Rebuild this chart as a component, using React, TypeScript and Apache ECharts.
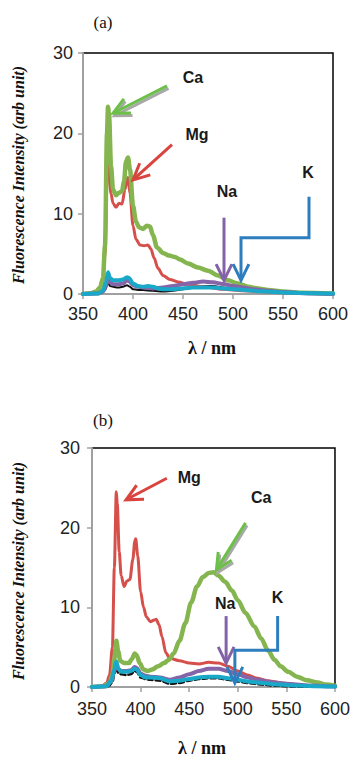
import React, { useEffect, useRef } from "react";
import * as echarts from "echarts";

// ---------- data ----------
const xTickLabels = ["350", "400", "450", "500", "550", "600"];
const yTickLabels = ["0", "10", "20", "30"];

// Panel (a)
const aCa = [[350,0],[358,0.1],[363,0.3],[367,0.8],[370,2],[372,6],[374,20],[375,23.3],[376,22.5],[378,16],[380,13],[383,12.3],[386,12.6],[389,12.8],[391,14],[393,16.5],[395,17],[397,15.5],[400,11],[403,9],[406,8.3],[410,8.1],[414,8.5],[417,8.4],[420,7.3],[424,5.8],[430,5.1],[436,4.8],[442,4.6],[447,4.3],[455,3.8],[465,3.3],[475,2.9],[485,2.3],[495,1.7],[505,1.3],[515,0.9],[525,0.7],[535,0.5],[550,0.3],[570,0.15],[600,0.05]];
const aMg = [[350,0],[360,0.1],[366,0.4],[370,1.5],[372,5],[374,14],[375,16],[376,15],[378,12.5],[380,11.3],[383,10.8],[386,11.3],[389,11.2],[392,13],[394,14.3],[395,14.5],[397,12.5],[400,8.5],[403,6.8],[407,6.1],[411,6],[415,6.1],[418,5.6],[421,4.5],[425,3.2],[430,2.3],[437,1.8],[445,1.5],[455,1.2],[470,0.9],[490,0.6],[510,0.4],[540,0.2],[570,0.1],[600,0]];
const aNa = [[350,0],[365,0.05],[370,0.3],[373,1],[375,1.9],[377,1.5],[380,1.2],[385,1.2],[390,1.3],[394,1.7],[396,1.6],[400,1.1],[405,0.9],[410,0.8],[420,0.7],[430,0.8],[440,1.0],[450,1.2],[460,1.4],[470,1.55],[480,1.45],[490,1.25],[500,1.0],[510,0.8],[520,0.6],[535,0.4],[550,0.25],[570,0.1],[600,0]];
const aK = [[350,0],[365,0.05],[370,0.4],[373,1.5],[375,2.7],[377,2.0],[380,1.7],[385,1.7],[390,1.8],[394,2.1],[396,2.0],[400,1.3],[405,1.0],[410,0.9],[415,1.0],[420,0.9],[425,0.7],[430,0.6],[440,0.6],[450,0.7],[460,0.8],[470,0.8],[480,0.8],[490,0.7],[500,0.6],[510,0.5],[525,0.35],[540,0.25],[560,0.15],[580,0.08],[600,0.05]];
const aBlank = [[350,0],[368,0.1],[372,0.5],[375,1.4],[377,1.0],[380,0.9],[385,0.8],[390,0.9],[394,1.1],[397,0.9],[400,0.6],[405,0.5],[410,0.5],[420,0.4],[430,0.3],[440,0.4],[450,0.6],[460,0.8],[470,1.0],[480,1.0],[490,0.8],[500,0.6],[510,0.5],[525,0.35],[550,0.15],[575,0.05],[600,0]];

// Panel (b)
const bMg = [[350,0],[360,0.1],[365,0.5],[368,1.5],[371,5],[373,15],[375,24.5],[376,23],[378,17],[380,14],[383,12.6],[386,13.3],[389,13.5],[392,16],[394,18.3],[395,18.6],[397,16.5],[400,12],[403,10],[406,8.8],[410,8.2],[414,8.4],[416,8.5],[419,7.8],[422,6.3],[426,4.3],[430,3.6],[440,3.3],[450,3.0],[460,2.9],[470,3.1],[480,3.0],[490,2.6],[500,2.0],[510,1.5],[520,1.1],[530,0.8],[545,0.5],[560,0.3],[580,0.15],[600,0.05]];
const bCa = [[350,0],[362,0.1],[368,0.5],[371,1.5],[373,3.5],[375,5.8],[377,4.5],[379,3.3],[383,3.0],[388,3.0],[391,3.5],[394,4.2],[396,4.0],[399,3.0],[403,2.2],[407,2.0],[412,2.2],[418,2.6],[424,3.0],[429,3.4],[434,4.2],[440,5.8],[446,8],[452,10.6],[458,12.6],[464,13.8],[470,14.3],[475,14.4],[480,14.0],[487,13.2],[494,12.1],[500,10.9],[508,9.3],[517,7.6],[524,6.1],[531,4.6],[538,3.4],[544,2.6],[552,1.9],[561,1.3],[571,0.85],[582,0.55],[591,0.3],[600,0.15]];
const bNa = [[350,0],[365,0.1],[370,0.8],[373,2],[375,3.0],[377,2.3],[380,2.0],[385,2.0],[390,2.1],[394,2.5],[396,2.4],[400,1.7],[405,1.4],[410,1.3],[420,1.2],[430,0.9],[440,1.2],[450,1.6],[460,2.0],[470,2.3],[480,2.3],[490,2.0],[500,1.6],[510,1.2],[520,0.9],[535,0.6],[550,0.4],[570,0.2],[600,0.05]];
const bK = [[350,0],[365,0.1],[370,0.8],[373,2.2],[375,3.2],[377,2.3],[380,1.9],[385,1.9],[390,2.0],[394,2.3],[396,2.2],[400,1.5],[405,1.2],[410,1.2],[420,1.1],[430,0.7],[440,0.8],[450,1.0],[460,1.2],[470,1.3],[480,1.3],[490,1.1],[500,0.9],[510,0.7],[525,0.5],[540,0.3],[560,0.2],[580,0.1],[600,0.05]];
const bBlank = [[350,0],[367,0.1],[371,0.6],[373,1.6],[375,2.6],[377,1.8],[380,1.6],[385,1.5],[390,1.6],[394,2.0],[396,1.9],[400,1.2],[405,1.0],[410,0.9],[420,0.8],[430,0.4],[440,0.5],[450,0.8],[460,1.0],[470,1.1],[480,1.1],[490,0.9],[500,0.7],[510,0.5],[525,0.3],[540,0.15],[560,0.05],[600,0]];

// annotation labels (data coords) and arrows (data coords, last point = tip)
const labelsA = [
  { text: "Ca", at: [460, 27.0] },
  { text: "Mg", at: [464, 19.8] },
  { text: "Na", at: [494, 12.7] },
  { text: "K", at: [575, 15.1] },
];
const arrowsA = [
  { color: "#6cc04a", shadow: true, pts: [[434, 25.9], [380, 22.5]] },
  { color: "#d9443f", shadow: false, pts: [[439, 18.6], [400, 14.2]] },
  { color: "#8462a8", shadow: false, pts: [[491, 9.5], [491, 1.7]] },
  { color: "#2e7dbd", shadow: false, pts: [[576, 12.1], [576, 7.0], [508, 7.0], [508, 1.7]] },
];
const labelsB = [
  { text: "Mg", at: [450, 26.3] },
  { text: "Ca", at: [524, 23.8] },
  { text: "Na", at: [487, 10.5] },
  { text: "K", at: [541, 11.2] },
];
const arrowsB = [
  { color: "#d9443f", shadow: false, pts: [[427, 26.2], [385, 23.5]] },
  { color: "#6cc04a", shadow: true, pts: [[508, 20.6], [478, 14.7]] },
  { color: "#8462a8", shadow: false, pts: [[488, 8.9], [488, 3.0]] },
  { color: "#2e7dbd", shadow: false, pts: [[541, 8.9], [541, 4.6], [497, 4.6], [497, 0.5]] },
];

// ---------- styles ----------
const SANS = 'Arial, "Liberation Sans", Helvetica, sans-serif';
const SERIF = '"Times New Roman", "Liberation Serif", serif';
const C_CA = "#84b54e";
const C_MG = "#d6504b";
const C_NA = "#8565a8";
const C_K = "#1aa8c8";
const C_BLANK = "#111111";

function line(data: number[][], idx: number, color: string, width: number, dashed = false) {
  return {
    type: "line",
    data,
    xAxisIndex: idx,
    yAxisIndex: idx,
    showSymbol: false,
    smooth: 0.3,
    smoothMonotone: "x",
    lineStyle: { color, width, type: dashed ? [5, 3] : "solid", cap: "round", join: "round" },
    itemStyle: { color },
    silent: true,
  };
}

function xAxis(idx: number, margin: number) {
  return {
    type: "value",
    gridIndex: idx,
    min: 350,
    max: 600,
    interval: 50,
    axisLine: { show: true, onZero: false, lineStyle: { color: "#a0a0a0", width: 2 } },
    axisTick: { show: true, length: 5, lineStyle: { color: "#a0a0a0", width: 1.5 } },
    axisLabel: {
      margin,
      fontSize: 18,
      fontFamily: SANS,
      color: "#222",
      formatter: (v: number) => xTickLabels[Math.round((v - 350) / 50)] ?? "",
    },
    splitLine: { show: false },
  };
}
function yAxis(idx: number, margin: number) {
  return {
    type: "value",
    gridIndex: idx,
    min: 0,
    max: 30,
    interval: 10,
    axisLine: { show: true, lineStyle: { color: "#a0a0a0", width: 2 } },
    axisTick: { show: true, length: 5, lineStyle: { color: "#a0a0a0", width: 1.5 } },
    axisLabel: {
      margin,
      fontSize: 18,
      fontFamily: SANS,
      color: "#222",
      formatter: (v: number) => yTickLabels[Math.round(v / 10)] ?? "",
    },
    splitLine: { show: false },
  };
}

export default function App() {
  const ref = useRef<HTMLDivElement>(null);
  useEffect(() => {
    document.body.style.margin = "0";
    const chart = echarts.init(ref.current!, null, { renderer: "svg" });
    chart.setOption({
      animation: false,
      grid: [
        { left: 83, top: 53, width: 250, height: 241, show: true, borderColor: "#000", borderWidth: 1.5 },
        { left: 92, top: 448, width: 246, height: 239, show: true, borderColor: "#000", borderWidth: 1.5 },
      ],
      xAxis: [xAxis(0, 11), xAxis(1, 13)],
      yAxis: [yAxis(0, 10), yAxis(1, 12)],
      series: [
        line(aBlank, 0, C_BLANK, 2),
        line(aMg, 0, C_MG, 3),
        line(aCa, 0, C_CA, 4.5),
        line(aNa, 0, C_NA, 4),
        line(aK, 0, C_K, 4),
        line(bBlank, 1, C_BLANK, 2.5, true),
        line(bMg, 1, C_MG, 3),
        line(bCa, 1, C_CA, 4.5),
        line(bNa, 1, C_NA, 4),
        line(bK, 1, C_K, 4),
      ],
    });

    const elements: any[] = [];
    const addPanel = (gi: number, labels: any[], arrows: any[]) => {
      labels.forEach((l) => {
        const p = chart.convertToPixel({ gridIndex: gi }, l.at) as number[];
        elements.push({
          type: "text",
          x: p[0],
          y: p[1],
          z: 100,
          style: {
            text: l.text,
            font: `bold 16px ${SANS}`,
            fill: "#1a1a1a",
            align: "center",
            verticalAlign: "middle",
            textAlign: "center",
            textVerticalAlign: "middle",
          },
        });
      });
      arrows.forEach((a) => {
        const pts = a.pts.map((d: number[]) => chart.convertToPixel({ gridIndex: gi }, d) as number[]);
        const tip = pts[pts.length - 1];
        const prev = pts[pts.length - 2];
        let dx = prev[0] - tip[0];
        let dy = prev[1] - tip[1];
        const len = Math.hypot(dx, dy) || 1;
        dx /= len;
        dy /= len;
        const L = 18;
        const ang = (26 * Math.PI) / 180;
        const rot = (s: number) => [
          tip[0] + L * (dx * Math.cos(s * ang) - dy * Math.sin(s * ang)),
          tip[1] + L * (dx * Math.sin(s * ang) + dy * Math.cos(s * ang)),
        ];
        const head = [rot(1), tip, rot(-1)];
        const draw = (off: number[], color: string, z: number) => {
          const sh = (arr: number[][]) => arr.map((p) => [p[0] + off[0], p[1] + off[1]]);
          elements.push({
            type: "polyline",
            z,
            shape: { points: sh(pts) },
            style: { stroke: color, lineWidth: 3, fill: "none", lineJoin: "miter" },
          });
          elements.push({
            type: "polyline",
            z,
            shape: { points: sh(head) },
            style: { stroke: color, lineWidth: 3, fill: "none", lineJoin: "miter" },
          });
        };
        if (a.shadow) draw([1.5, 2.5], "#a8a8a8", 98);
        draw([0, 0], a.color, 99);
      });
    };
    addPanel(0, labelsA, arrowsA);
    addPanel(1, labelsB, arrowsB);

    const staticText = (text: string, x: number, y: number, font: string, rotation = 0) => ({
      type: "text",
      x,
      y,
      rotation,
      z: 100,
      style: {
        text,
        font,
        fill: "#111",
        align: "center",
        verticalAlign: "middle",
        textAlign: "center",
        textVerticalAlign: "middle",
      },
    });
    elements.push(staticText("(a)", 103, 22, `17px ${SERIF}`));
    elements.push(staticText("(b)", 103, 420, `17px ${SERIF}`));
    elements.push(staticText("λ / nm", 212, 348, `bold 18px ${SERIF}`));
    elements.push(staticText("λ / nm", 202, 748, `bold 18px ${SERIF}`));
    elements.push(staticText("Fluorescence Intensity (arb unit)", 18, 175, `italic bold 16px ${SERIF}`, Math.PI / 2));
    elements.push(staticText("Fluorescence Intensity (arb unit)", 18, 571, `italic bold 16px ${SERIF}`, Math.PI / 2));

    chart.setOption({ graphic: { elements } });
    return () => chart.dispose();
  }, []);
  return <div ref={ref} style={{ width: 353, height: 760 }} />;
}
